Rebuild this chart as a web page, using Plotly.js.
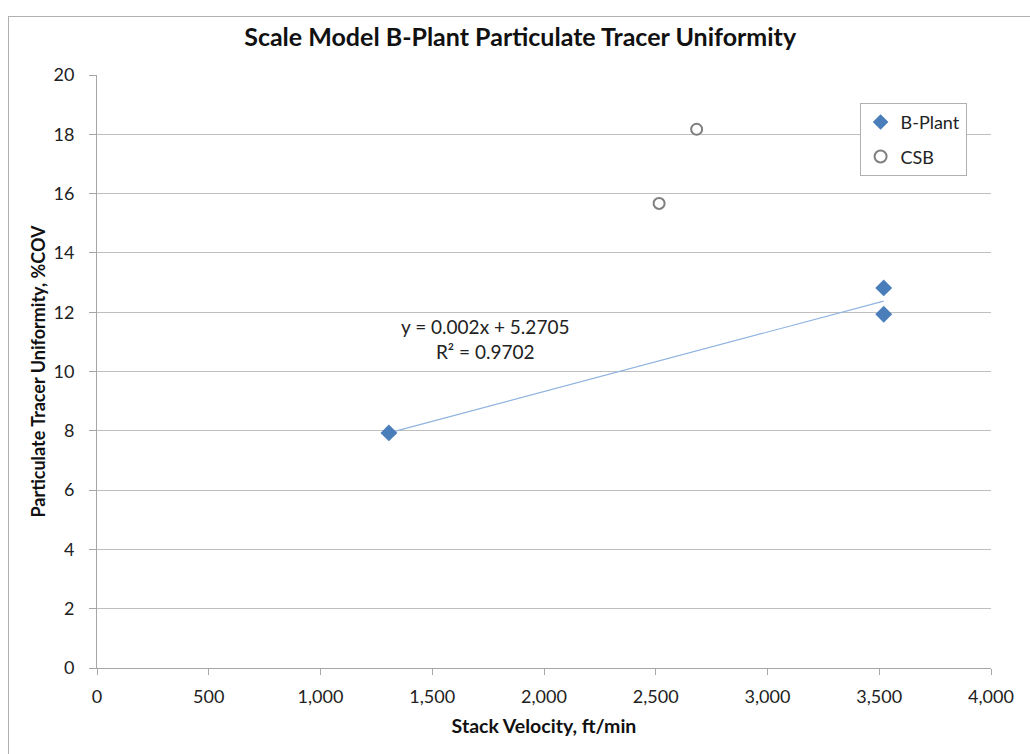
<!DOCTYPE html>
<html><head><meta charset="utf-8">
<script src="https://cdn.plot.ly/plotly-3.0.1.min.js"></script>
<style>html,body{margin:0;padding:0;background:#fff}#frame{position:absolute;left:8px;top:16px;width:1040px;height:760px;border:1px solid #b0b0b0;pointer-events:none}</style>
</head><body>
<div id="chart" style="width:1030px;height:754px"></div>
<div id="frame"></div>
<script>
const bplantX = [1306, 3520, 3520];
const bplantY = [7.93, 12.82, 11.93];
const csbX = [2515, 2683];
const csbY = [15.67, 18.17];
const xTicks = [0, 500, 1000, 1500, 2000, 2500, 3000, 3500, 4000];
const xTickLabels = ["0", "500", "1,000", "1,500", "2,000", "2,500", "3,000", "3,500", "4,000"];
const eqText = "y = 0.002x + 5.2705<br>R² = 0.9702";

// least-squares trendline through the B-Plant data
const n = bplantX.length;
const mx = bplantX.reduce((a,b)=>a+b,0)/n, my = bplantY.reduce((a,b)=>a+b,0)/n;
let sxy=0,sxx=0; for(let i=0;i<n;i++){sxy+=(bplantX[i]-mx)*(bplantY[i]-my);sxx+=(bplantX[i]-mx)**2;}
const slope=sxy/sxx, icpt=my-slope*mx;
const tx=[Math.min(...bplantX), Math.max(...bplantX)];
const ty=tx.map(v=>icpt+slope*v);

const font = "Lato, 'Open Sans', sans-serif";
const data = [
  {x: tx, y: ty, mode: 'lines', line: {color: '#8fb3e0', width: 1.2}, showlegend: false, hoverinfo: 'skip'},
  {x: bplantX, y: bplantY, mode: 'markers', name: 'B-Plant', legendgroup: 'a',
   marker: {symbol: 'diamond', size: 13, color: '#4a7ebb'}},
  {x: csbX, y: csbY, mode: 'markers', name: 'CSB', legendgroup: 'b',
   marker: {symbol: 'circle-open', size: 11, color: '#7f7f7f', line: {width: 2, color: '#7f7f7f'}}}
];
const layout = {
  width: 1030, height: 754,
  margin: {l: 97, r: 39, t: 75, b: 86},
  paper_bgcolor: '#fff', plot_bgcolor: '#fff',
  font: {family: font, size: 18, color: '#222'},
  title: {text: '<b>Scale Model B-Plant Particulate Tracer Uniformity</b>', font: {size: 25, color: '#111', family: font}, x: 0.505, xanchor: 'center', y: 0.951, yanchor: 'middle'},
  xaxis: {range: [0, 4000], tickvals: xTicks, ticktext: xTickLabels, showgrid: false, zeroline: false,
    showline: true, linecolor: '#a6a6a6', linewidth: 1, ticks: 'outside', ticklen: 6, tickcolor: '#a6a6a6',
    tickfont: {size: 18, color: '#222'}, ticklabelstandoff: 6,
    title: {text: '<b>Stack Velocity, ft/min</b>', font: {size: 19.5, color: '#111'}, standoff: 13}},
  yaxis: {range: [0, 20], dtick: 2, showgrid: true, gridcolor: '#bfbfbf', gridwidth: 1, zeroline: false,
    showline: true, linecolor: '#a6a6a6', linewidth: 1, ticks: 'outside', ticklen: 7, tickcolor: '#a6a6a6',
    tickfont: {size: 18, color: '#222'}, ticklabelstandoff: 11,
    title: {text: '<b>Particulate Tracer Uniformity, %COV</b>', font: {size: 18, color: '#111'}, standoff: 3}},
  legend: {x: 0.853, y: 0.953, xanchor: 'left', yanchor: 'top', bordercolor: '#b0b0b0', borderwidth: 1,
    bgcolor: '#fff', font: {size: 18, color: '#222'}, itemwidth: 30, tracegroupgap: 8, itemsizing: 'constant'},
  annotations: [{x: 1737, y: 11.08, xref: 'x', yref: 'y', text: eqText, showarrow: false,
    align: 'center', font: {size: 19, color: '#222'}}],
  hovermode: false
};
Plotly.newPlot('chart', data, layout, {staticPlot: true});
</script>
</body></html>
